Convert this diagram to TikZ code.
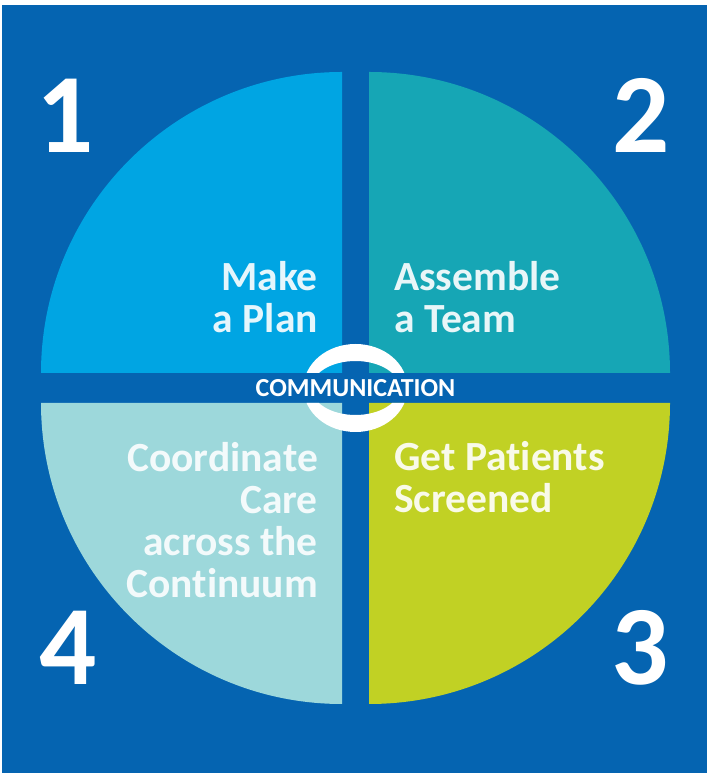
\documentclass[tikz,border=0pt]{standalone}
\usepackage{fontspec}
\setmainfont{Carlito}[Ligatures=NoCommon]
\definecolor{bgblue}{RGB}{5,100,177}
\definecolor{qone}{RGB}{0,165,227}
\definecolor{qtwo}{RGB}{22,166,181}
\definecolor{qthree}{RGB}{193,209,36}
\definecolor{qfour}{RGB}{157,216,219}
\begin{document}
\begin{tikzpicture}[x=1pt,y=1pt,
  label/.style={font=\bfseries\fontsize{41.5}{42}\selectfont, inner sep=0pt},
  num/.style={text=white, font=\bfseries\fontsize{113}{113}\selectfont, inner sep=0pt, anchor=base},
  comm/.style={text=white, font=\bfseries\fontsize{26}{26}\selectfont, inner sep=0pt}]
\useasboundingbox (0,0) rectangle (707,773);
\fill[white] (0,0) rectangle (707,773);
\fill[bgblue] (2,0) rectangle (707,768);
% quadrants
\fill[qone] (342,400) -- ++(-301,0) arc[start angle=180,end angle=90,radius=301] -- cycle;
\fill[qtwo] (369,400) -- ++(0,301) arc[start angle=90,end angle=0,radius=301] -- cycle;
\fill[qthree] (369,370) -- ++(301,0) arc[start angle=0,end angle=-90,radius=301] -- cycle;
\fill[qfour] (342,370) -- ++(0,-301) arc[start angle=270,end angle=180,radius=301] -- cycle;
% ring
\begin{scope}
\clip (250,400) rectangle (460,440) (250,330) rectangle (460,370);
\fill[white,even odd rule] (355.5,385) ellipse[x radius=52,y radius=44]
  (355.5,385) ellipse[x radius=44,y radius=27];
\end{scope}
\node[comm] (comm) at (355.5,385) {COMMUNICATION};
% numbers
\node[num] (n1) at (65,620) {1};
\node[num] (n2) at (641,620) {2};
\node[num] (n3) at (640,88) {3};
\node[num] (n4) at (68,88) {4};
% labels (anchor base = baseline of last line)
\node[label, text=white!90!qone, align=right, anchor=base east] (t1) at (318,440) {Make\\a Plan};
\node[label, text=white!90!qtwo, align=left, anchor=base west] (t2) at (394,440) {Assemble\\a Team};
\node[label, text=white!90!qthree, align=left, anchor=base west] (t3) at (394,260) {Get Patients\\Screened};
\node[label, text=white!88!qfour, align=right, anchor=base east] (t4) at (318,175) {Coordinate\\Care\\across the\\Continuum};
\end{tikzpicture}
\end{document}
